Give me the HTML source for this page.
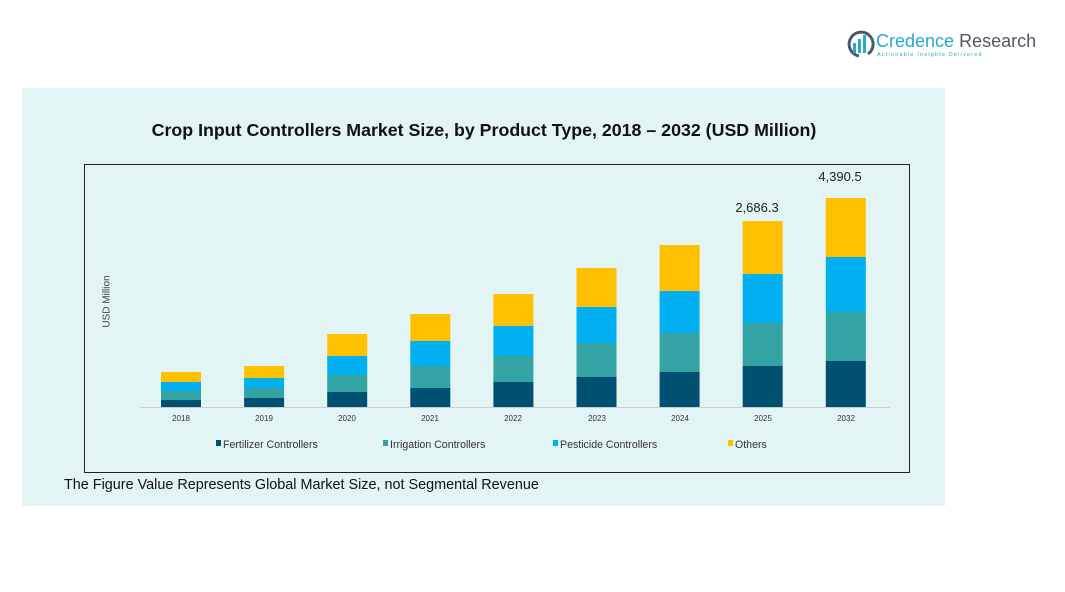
<!DOCTYPE html>
<html><head><style>
body{margin:0;width:1065px;height:592px;background:#fff;position:relative;font-family:"Liberation Sans",sans-serif;overflow:hidden}
.a{position:absolute}
</style></head><body>
<div class="a" style="left:22px;top:88px;width:923px;height:418px;background:#e2f4f4"></div>
<div class="a" style="left:84px;top:164px;width:824px;height:307px;border:1px solid #222"></div>
<div class="a" style="left:84px;top:120px;width:800px;text-align:center;font-weight:bold;font-size:17.8px;color:#111">Crop Input Controllers Market Size, by Product Type, 2018 – 2032 (USD Million)</div>
<div class="a" style="left:64px;top:477px;font-size:14.4px;color:#111">The Figure Value Represents Global Market Size, not Segmental Revenue</div>
<div class="a" style="left:72px;top:296px;width:70px;text-align:center;font-size:10px;color:#444;transform:rotate(-90deg)">USD Million</div>
<svg class="a" style="left:0;top:0" width="1065" height="592">
<line x1="140" y1="407.5" x2="890" y2="407.5" stroke="#ccc"/>
<g id="bars"></g>
<g font-size="8" fill="#333" text-anchor="middle" font-family="Liberation Sans">
<text x="181" y="421">2018</text><text x="264" y="421">2019</text><text x="347" y="421">2020</text><text x="430" y="421">2021</text><text x="513" y="421">2022</text><text x="597" y="421">2023</text><text x="680" y="421">2024</text><text x="763" y="421">2025</text><text x="846" y="421">2032</text>
</g>
<g font-size="13" fill="#222" text-anchor="middle" font-family="Liberation Sans">
<text x="757" y="212">2,686.3</text><text x="840" y="181">4,390.5</text>
</g>
<g font-size="10.6" fill="#333" font-family="Liberation Sans">
<rect x="216" y="440" width="5" height="6" fill="#005072"/><text x="223" y="448">Fertilizer Controllers</text>
<rect x="383" y="440" width="5" height="6" fill="#33a3a3"/><text x="390" y="448">Irrigation Controllers</text>
<rect x="553" y="440" width="5" height="6" fill="#00b0f0"/><text x="560" y="448">Pesticide Controllers</text>
<rect x="728" y="440" width="5" height="6" fill="#ffc000"/><text x="735" y="448">Others</text>
</g>
<g transform="translate(846,30)">
<path d="M13 26 A12 12 0 1 1 22 24" fill="none" stroke="#4a5a6a" stroke-width="3"/>
<rect x="7" y="13" width="3" height="10" fill="#2aa8c8"/><rect x="12" y="9" width="3" height="14" fill="#2aa8c8"/><rect x="17" y="5" width="3" height="18" fill="#2aa8c8"/>
</g>
<text x="876" y="47" font-size="18" fill="#2aa8c8" font-family="Liberation Sans">Credence <tspan fill="#556">Research</tspan></text>
<text x="877" y="56" font-size="5.5" fill="#2aa8c8" letter-spacing="1.2" font-family="Liberation Sans">Actionable Insights Delivered</text>
</svg>
<script>
var d=[[372,382,391,400],[366,378,388,398],[334,356,375,392],[314,341,366,388],[294,326,356,382],[268,307,343,377],[245,291,333,372],[221,274,323,366],[198,257,312,361]];
var c=["#ffc000","#00b0f0","#33a3a3","#005072"],s="";
d.forEach(function(b,i){var x=161+i*83.1;for(var k=0;k<4;k++){var y0=b[k],y1=k<3?b[k+1]:407;s+='<rect x="'+x+'" y="'+y0+'" width="40" height="'+(y1-y0)+'" fill="'+c[k]+'"/>';}});
document.getElementById("bars").innerHTML=s;
</script>
</body></html>
